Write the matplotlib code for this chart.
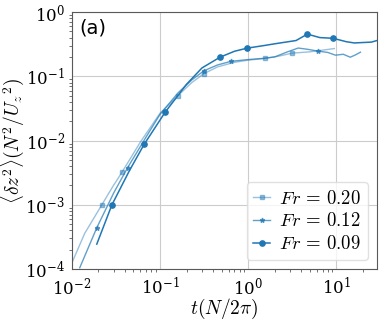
import numpy as np
import matplotlib
matplotlib.use("Agg")
import matplotlib.pyplot as plt

plt.rcParams['mathtext.fontset'] = 'cm'
plt.rcParams['font.family'] = ['DejaVu Sans']

# Fr = 0.20 (squares)
t20 = [0.0100, 0.0140, 0.0219, 0.0290, 0.0370, 0.0600, 0.1000, 0.1600, 0.2300, 0.3160, 0.4500, 0.7000, 1.0000, 1.5600, 2.2000, 3.1600, 5.0000, 7.0000, 9.5000]
d20 = [1.24e-4, 3.6e-4, 1.0e-3, 1.9e-3, 3.2e-3, 9.5e-3, 0.0265, 0.050, 0.080, 0.110, 0.140, 0.165, 0.178, 0.190, 0.205, 0.229, 0.240, 0.255, 0.270]
m20 = [2, 4, 7, 9, 13, 15]

# Fr = 0.12 (stars)
t12 = [0.0123, 0.0192, 0.0300, 0.0430, 0.0700, 0.1000, 0.1600, 0.2300, 0.3160, 0.4500, 0.6400, 1.0000, 1.5000, 2.0000, 2.8000, 3.7000, 4.8000, 6.2000, 8.0000, 9.8000, 12.000, 14.400, 16.500, 18.800]
d12 = [1.05e-4, 4.4e-4, 1.55e-3, 3.8e-3, 0.0115, 0.0255, 0.055, 0.088, 0.122, 0.150, 0.171, 0.182, 0.190, 0.200, 0.240, 0.275, 0.262, 0.246, 0.235, 0.213, 0.220, 0.198, 0.215, 0.237]
m12 = [1, 3, 8, 10, 17]

# Fr = 0.09 (circles)
t09 = [0.0192, 0.0285, 0.0450, 0.0660, 0.1140, 0.2000, 0.3000, 0.4800, 0.7000, 0.9750, 1.5000, 2.0000, 3.5000, 4.7000, 6.5000, 9.2000, 13.000, 16.000, 20.000, 25.000, 30.000]
d09 = [2.45e-4, 1.0e-3, 3.4e-3, 8.7e-3, 0.0274, 0.075, 0.135, 0.198, 0.245, 0.274, 0.300, 0.320, 0.360, 0.453, 0.400, 0.390, 0.345, 0.330, 0.335, 0.340, 0.365]
m09 = [1, 3, 4, 7, 9, 13, 15]

labels = [r'$Fr\,=\,0.20$', r'$Fr\,=\,0.12$', r'$Fr\,=\,0.09$']
color = '#1f77b4'

fig = plt.figure(figsize=(3.82, 3.20), dpi=100)
ax = fig.add_axes([0.188, 0.159, 0.799, 0.8035])

ax.plot(t20, d20, color=color, alpha=0.45, lw=1.0, marker='s', ms=3.3, markevery=m20, label=labels[0])
ax.plot(t12, d12, color=color, alpha=0.7, lw=1.0, marker='*', ms=3.5, markevery=m12, label=labels[1])
ax.plot(t09, d09, color=color, alpha=1.0, lw=1.1, marker='o', ms=3.8, markevery=m09, label=labels[2])

ax.set_xscale('log')
ax.set_yscale('log')
ax.set_xlim(1e-2, 29)
ax.set_ylim(1e-4, 1e0)

ax.grid(True, which='major', color='0.8', lw=0.8)
ax.set_axisbelow(True)
for s in ax.spines.values():
    s.set_color('0.35')
    s.set_linewidth(0.8)
ax.tick_params(which='major', length=0, labelsize=12)
ax.tick_params(axis='x', which='major', pad=5.5)
ax.tick_params(axis='y', which='major', pad=5)
ax.tick_params(which='minor', length=2.2, width=0.6, color='0.35', direction='out')

for lab in ax.get_xticklabels() + ax.get_yticklabels():
    lab.set_fontfamily('serif')

ax.set_xlabel(r'$t(N/2\pi)$', fontsize=14, labelpad=-1)
ax.set_ylabel(r'$\langle \delta z^2 \rangle (N^2/U_z{}^2)$', fontsize=14, labelpad=-1)

ax.text(0.025, 0.975, '(a)', transform=ax.transAxes, fontsize=14, va='top', ha='left')

leg = ax.legend(loc='lower right', fontsize=13.5, frameon=True, handlelength=0.9,
                handletextpad=0.5, borderpad=0.35, labelspacing=0.2,
                borderaxespad=0.5, fancybox=True)
leg.get_frame().set_edgecolor('0.85')

fig.savefig('out.png', dpi=100)
